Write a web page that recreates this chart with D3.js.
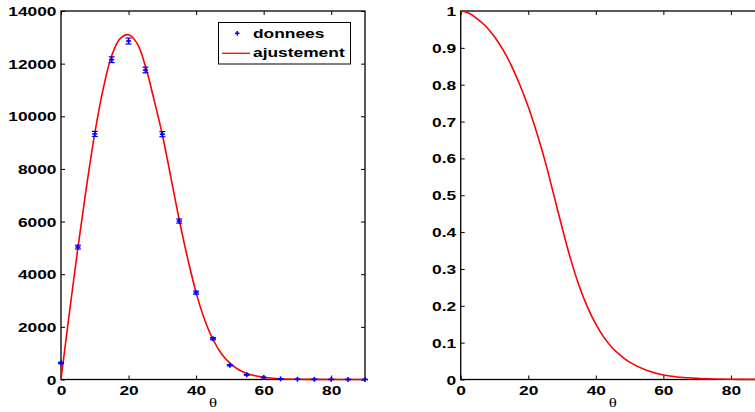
<!DOCTYPE html>
<html>
<head>
<meta charset="utf-8">
<script src="https://cdn.jsdelivr.net/npm/d3@7/dist/d3.min.js"></script>
<style>
  html, body { margin: 0; padding: 0; background: #fff; overflow: hidden; }
  svg { display: block; }
</style>
</head>
<body>
<svg id="chart" width="755" height="412"></svg>
<script>
// ---- data ----
const dataTheta  = [0, 5, 10, 15, 20, 25, 30, 35, 40, 45, 50, 55, 60, 65, 70, 75, 80, 85, 90];
const dataCounts = [630, 5030, 9330, 12150, 12860, 11760, 9320, 6020, 3300, 1550, 540, 180, 75, 25, 10, 5, 3, 1, 1];
const dataErrors = [25, 70, 97, 110, 113, 108, 97, 78, 58, 40, 23, 13, 9, 5, 3, 2, 2, 1, 1];

const fitTheta  = [0, 2.5, 5, 7.5, 10, 12.5, 15, 17.5, 20, 22.5, 25, 27.5, 30, 32.5, 35, 37.5, 40, 42.5, 45, 47.5, 50, 52.5, 55, 57.5, 60, 65, 70, 75, 80, 85, 90];
const fitValues = [0, 2550, 5000, 7280, 9350, 11050, 12300, 12950, 13100, 12780, 11900, 10650, 9300, 7700, 6070, 4600, 3300, 2280, 1520, 980, 620, 380, 230, 140, 85, 30, 10, 3, 1, 0, 0];

const corrTheta  = [0, 2.5, 5, 7.5, 10, 12.5, 15, 17.5, 20, 22.5, 25, 27.5, 30, 32.5, 35, 37.5, 40, 42.5, 45, 47.5, 50, 55, 60, 65, 70, 75, 80, 85, 90];
const corrValues = [1, 0.994, 0.978, 0.958, 0.930, 0.895, 0.852, 0.800, 0.740, 0.670, 0.592, 0.503, 0.413, 0.328, 0.256, 0.197, 0.150, 0.113, 0.085, 0.064, 0.047, 0.025, 0.012, 0.006, 0.003, 0.0015, 0.0007, 0.0003, 0.0001];

const xTicks      = [0, 20, 40, 60, 80];
const yTicksLeft  = [0, 2000, 4000, 6000, 8000, 10000, 12000, 14000];
const yTicksRight = [0, 0.1, 0.2, 0.3, 0.4, 0.5, 0.6, 0.7, 0.8, 0.9, 1];
const legendLabels = ["donnees", "ajustement"];
const xLabel = "θ";

// ---- layout ----
const svg = d3.select("#chart");
const SX = 1.39; // horizontal stretch of the reference text
const FONT = "'Liberation Sans', Arial, Helvetica, sans-serif";
const plotTop = 11, plotBottom = 379.5;

function drawPanel(left, right, yDomain, yTicks, fmt) {
  const x = d3.scaleLinear().domain([0, 90]).range([left, right]);
  const y = d3.scaleLinear().domain(yDomain).range([plotBottom, plotTop]);
  const g = svg.append("g");

  const styleAxis = (sel) => {
    sel.select(".domain").remove();
    sel.selectAll(".tick line").attr("stroke", "#000").attr("stroke-width", 1);
  };

  // bottom axis with labels
  const gx = g.append("g").attr("transform", `translate(0,${plotBottom})`)
    .call(d3.axisBottom(x).tickValues(xTicks).tickSize(-4).tickSizeOuter(0).tickPadding(5));
  styleAxis(gx);
  gx.selectAll(".tick text")
    .attr("y", null).attr("dy", null)
    .attr("transform", `translate(0,15.5) scale(${SX},1)`)
    .attr("font-family", FONT).attr("font-weight", "bold").attr("font-size", "12.5px")
    .attr("fill", "#000");

  // top axis (ticks only)
  const gt = g.append("g").attr("transform", `translate(0,${plotTop})`)
    .call(d3.axisTop(x).tickValues(xTicks).tickSize(-4).tickSizeOuter(0).tickFormat(""));
  styleAxis(gt);

  // left axis with labels
  const gy = g.append("g").attr("transform", `translate(${left},0)`)
    .call(d3.axisLeft(y).tickValues(yTicks).tickSize(-4).tickSizeOuter(0).tickFormat(fmt));
  styleAxis(gy);
  gy.selectAll(".tick text")
    .attr("x", -4.5 / SX).attr("dy", "0.36em")
    .attr("transform", `scale(${SX},1)`)
    .attr("font-family", FONT).attr("font-weight", "bold").attr("font-size", "12.5px")
    .attr("fill", "#000");

  // right axis (ticks only)
  const gr = g.append("g").attr("transform", `translate(${right},0)`)
    .call(d3.axisRight(y).tickValues(yTicks).tickSize(-4).tickSizeOuter(0).tickFormat(""));
  styleAxis(gr);

  // frame
  g.append("rect")
    .attr("x", left).attr("y", plotTop)
    .attr("width", right - left).attr("height", plotBottom - plotTop)
    .attr("fill", "none").attr("stroke", "#000").attr("stroke-width", 1.3);

  // x label
  g.append("text")
    .attr("transform", `translate(${(left + right) / 2},406.5) scale(1.3,1)`)
    .attr("text-anchor", "middle")
    .attr("font-family", "'Liberation Serif', 'DejaVu Serif', serif")
    .attr("font-size", "13px").attr("fill", "#000")
    .text(xLabel);

  return { g, x, y };
}

// ---- left panel ----
const L = drawPanel(61, 365, [0, 14000], yTicksLeft, d3.format("d"));

const fitLine = d3.line()
  .x((d, i) => L.x(fitTheta[i]))
  .y(d => L.y(d))
  .curve(d3.curveCatmullRom.alpha(0.5));

L.g.append("path")
  .attr("d", fitLine(fitValues))
  .attr("fill", "none").attr("stroke", "#ff0000").attr("stroke-width", 1.6);

const pts = L.g.append("g").attr("stroke", "#0000ff").attr("stroke-width", 1.2);
dataTheta.forEach((t, i) => {
  const cx = L.x(t), cy = L.y(dataCounts[i]);
  const y1 = L.y(dataCounts[i] - dataErrors[i]), y2 = L.y(dataCounts[i] + dataErrors[i]);
  const p = pts.append("g");
  p.append("line").attr("x1", cx).attr("x2", cx).attr("y1", y1).attr("y2", y2);
  p.append("line").attr("x1", cx - 3).attr("x2", cx + 3).attr("y1", y1).attr("y2", y1);
  p.append("line").attr("x1", cx - 3).attr("x2", cx + 3).attr("y1", y2).attr("y2", y2);
  // '+' marker
  p.append("line").attr("x1", cx - 2.5).attr("x2", cx + 2.5).attr("y1", cy).attr("y2", cy).attr("stroke-width", 1.6);
  p.append("line").attr("x1", cx).attr("x2", cx).attr("y1", cy - 2.5).attr("y2", cy + 2.5).attr("stroke-width", 1.6);
});

// legend
const lg = L.g.append("g");
lg.append("rect").attr("x", 218.5).attr("y", 22.5).attr("width", 132).attr("height", 41.5)
  .attr("fill", "#fff").attr("stroke", "#000").attr("stroke-width", 1);
lg.append("line").attr("x1", 235).attr("x2", 239.5).attr("y1", 33.3).attr("y2", 33.3)
  .attr("stroke", "#0000ff").attr("stroke-width", 1.5);
lg.append("line").attr("x1", 237.3).attr("x2", 237.3).attr("y1", 31).attr("y2", 35.6)
  .attr("stroke", "#0000ff").attr("stroke-width", 1.5);
lg.append("line").attr("x1", 222).attr("x2", 250).attr("y1", 53.3).attr("y2", 53.3)
  .attr("stroke", "#ff0000").attr("stroke-width", 1.3);
legendLabels.forEach((lab, i) => {
  lg.append("text")
    .attr("transform", `translate(253,${i === 0 ? 38.3 : 57}) scale(${SX},1)`)
    .attr("font-family", FONT).attr("font-weight", "bold").attr("font-size", "12.5px")
    .attr("fill", "#000").text(lab);
});

// ---- right panel ----
const R = drawPanel(460.7, 764.7, [0, 1], yTicksRight, d => d3.format("")(+d.toFixed(1)));

const corrLine = d3.line()
  .x((d, i) => R.x(corrTheta[i]))
  .y(d => R.y(d))
  .curve(d3.curveCatmullRom.alpha(0.5));

R.g.append("path")
  .attr("d", corrLine(corrValues))
  .attr("fill", "none").attr("stroke", "#ff0000").attr("stroke-width", 1.6);
</script>
</body>
</html>
